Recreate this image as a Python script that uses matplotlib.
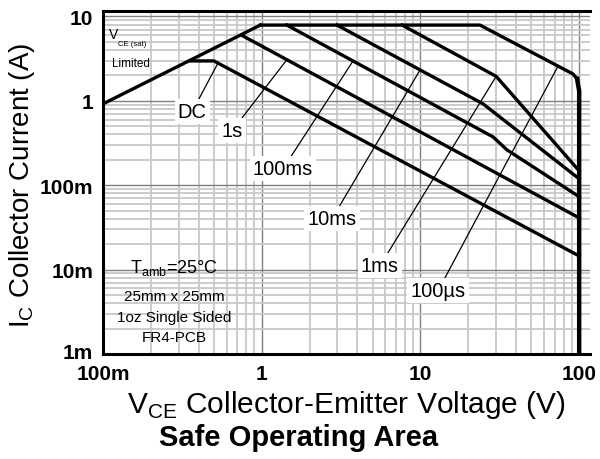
import matplotlib
matplotlib.use("Agg")
import matplotlib.pyplot as plt
from matplotlib.patches import Rectangle
from matplotlib.ticker import FixedLocator, LogLocator, NullFormatter
from matplotlib.transforms import ScaledTranslation

plt.rcParams['font.family'] = ['Liberation Sans', 'DejaVu Sans']
plt.rcParams['mathtext.fontset'] = 'custom'
plt.rcParams['mathtext.rm'] = 'Liberation Sans'

# SOA boundaries (V, A)
vsat_v = [0.1, 0.98]
vsat_i = [0.92, 7.9]

dc_v = [0.353, 0.50, 100]
dc_i = [2.97, 2.97, 0.0145]

s1_v = [0.762, 100]
s1_i = [5.87, 0.041]

ms100_v = [1.44, 28.7, 35.1, 100]
ms100_i = [7.9, 0.373, 0.262, 0.073]

ms10_v = [2.98, 24.8, 100]
ms10_i = [7.9, 0.92, 0.119]

ms1_v = [7.66, 30.0, 100]
ms1_i = [7.9, 1.95, 0.148]

us100_v = [0.98, 23.7, 91.5, 97, 100, 100]
us100_i = [7.9, 7.9, 2.08, 1.82, 1.31, 0.001]

# curve labels: text, label position, point on curve
labels = [
    ("DC", (0.364, 0.74), (0.53, 2.8)),
    ("1s", (0.65, 0.44), (1.44, 3.07)),
    ("100ms", (1.36, 0.156), (3.76, 2.97)),
    ("10ms", (2.77, 0.040), (9.94, 2.32)),
    ("1ms", (5.56, 0.0111), (30.0, 1.95)),
    ("100µs", (12.9, 0.0056), (73.6, 2.58)),
]

box_lines = ["T$_{\\mathregular{amb}}$=25°C", "25mm x 25mm", "1oz Single Sided", "FR4-PCB"]

x_ticks = [0.1, 1, 10, 100]
x_ticklabels = ["100m", "1", "10", "100"]
y_ticks = [0.001, 0.01, 0.1, 1, 10]
y_ticklabels = ["1m", "10m", "100m", "1", "10"]

fig = plt.figure(figsize=(6, 4.6), dpi=100)
ax = fig.add_axes([103 / 600, 1 - 355 / 460, 487 / 600, 343 / 460])
ax.set_xscale('log')
ax.set_yscale('log')
ax.set_xlim(0.1, 117)
ax.set_ylim(0.001, 11.6)

ax.xaxis.set_major_locator(FixedLocator(x_ticks))
ax.yaxis.set_major_locator(FixedLocator(y_ticks))
ax.set_xticklabels(x_ticklabels)
ax.set_yticklabels(y_ticklabels)
ax.xaxis.set_minor_locator(LogLocator(base=10, subs=range(2, 10)))
ax.yaxis.set_minor_locator(LogLocator(base=10, subs=range(2, 10)))
ax.xaxis.set_minor_formatter(NullFormatter())
ax.yaxis.set_minor_formatter(NullFormatter())
ax.tick_params(which='both', length=0)
ax.tick_params(axis='x', pad=7, labelsize=15)
ax.tick_params(axis='y', pad=7, labelsize=15)
for t in ax.get_xticklabels() + ax.get_yticklabels():
    t.set_fontweight('bold')
# nudge the lowest y label up a touch so it clears "100m"
lbl = ax.get_yticklabels()[0]
lbl.set_transform(lbl.get_transform() + ScaledTranslation(0, 3 / 100, fig.dpi_scale_trans))

ax.grid(which='minor', color='#c8c8c8', lw=1.3, zorder=0)
ax.grid(which='major', color='#808080', lw=1.0, zorder=0)
for s in ax.spines.values():
    s.set_linewidth(2.2)
ax.spines['right'].set_visible(False)

# white boxes
ax.add_patch(Rectangle((0, 0), 0.292, 0.321, transform=ax.transAxes,
                       facecolor='white', edgecolor='none', zorder=1))
ax.add_patch(Rectangle((0, 0.816), 0.10, 0.184, transform=ax.transAxes,
                       facecolor='white', edgecolor='none', zorder=1))

lw = 2.4
for v, i in [(vsat_v, vsat_i), (dc_v, dc_i), (s1_v, s1_i), (ms100_v, ms100_i),
             (ms10_v, ms10_i), (ms1_v, ms1_i), (us100_v[:-2], us100_i[:-2])]:
    ax.plot(v, i, color='black', lw=lw, solid_joinstyle='round', zorder=3)
ax.plot(us100_v[-3:], us100_i[-3:], color='black', lw=3.2, zorder=3)

for txt, pos, pt in labels:
    ax.annotate(txt, xy=pt, xytext=pos, fontsize=14.5, ha='center', va='center',
                bbox=dict(boxstyle='square,pad=0.15', fc='white', ec='none'),
                arrowprops=dict(arrowstyle='-', color='black', lw=0.9,
                                shrinkA=0, shrinkB=0),
                zorder=2)

ys = [0.254, 0.169, 0.108, 0.050]
sizes = [13, 11, 11, 11]
for line, yy, fs in zip(box_lines, ys, sizes):
    ax.text(0.146, yy, line, transform=ax.transAxes, fontsize=fs,
            ha='center', va='center', zorder=2)

ax.text(0.021, 0.933, "V", transform=ax.transAxes, fontsize=10,
        ha='center', va='center', zorder=2)
ax.text(0.06, 0.904, "CE (sat)", transform=ax.transAxes, fontsize=5.5,
        ha='center', va='center', zorder=2)
ax.text(0.057, 0.848, "Limited", transform=ax.transAxes, fontsize=8.5,
        ha='center', va='center', zorder=2)

fig.text(0.037, 0.598, "I$_{\\mathregular{C}}$ Collector Current (A)", rotation=90,
         fontsize=20, ha='center', va='center')
fig.text(0.578, 0.120, "V$_{\\mathregular{CE}}$ Collector-Emitter Voltage (V)",
         fontsize=21.5, ha='center', va='center')
fig.text(0.498, 0.048, "Safe Operating Area", fontsize=21, fontweight='bold',
         ha='center', va='center')

fig.savefig("out.png", dpi=100)
